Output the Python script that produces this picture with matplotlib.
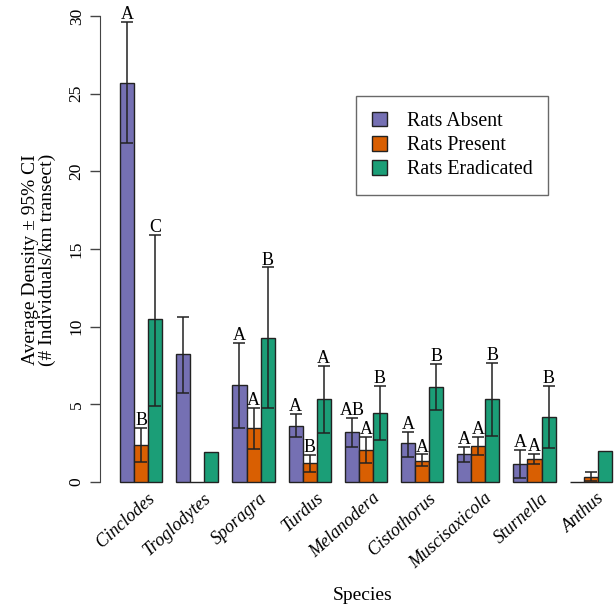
import numpy as np
import matplotlib.pyplot as plt
from matplotlib.patches import Patch

plt.rcParams['font.family'] = ['Liberation Serif', 'DejaVu Serif']

species = ['Cinclodes', 'Troglodytes', 'Sporagra', 'Turdus', 'Melanodera',
           'Cistothorus', 'Muscisaxicola', 'Sturnella', 'Anthus']

# mean density and 95% CI (lower, upper), nan = no error bar
absent = [25.7, 8.22, 6.25, 3.63, 3.2, 2.49, 1.8, 1.16, 0.0]
absent_lo = [21.8, 5.75, 3.5, 2.88, 2.23, 1.63, 1.31, 0.24, np.nan]
absent_hi = [29.6, 10.65, 8.97, 4.36, 4.14, 3.24, 2.27, 2.06, np.nan]
absent_let = ['A', '', 'A', 'A', 'AB', 'A', 'A', 'A', '']

present = [2.38, 0.0, 3.46, 1.2, 2.06, 1.37, 2.32, 1.46, 0.34]
present_lo = [1.31, np.nan, 2.1, 0.66, 1.2, 1.03, 1.74, 1.16, 0.08]
present_hi = [3.46, np.nan, 4.79, 1.76, 2.92, 1.78, 2.92, 1.8, 0.66]
present_let = ['B', '', 'A', 'B', 'A', 'A', 'A', 'A', '']

erad = [10.48, 1.95, 9.29, 5.32, 4.46, 6.14, 5.34, 4.2, 2.0]
erad_lo = [4.91, np.nan, 4.79, 3.18, 2.7, 4.64, 2.98, 2.17, np.nan]
erad_hi = [15.9, np.nan, 13.82, 7.49, 6.18, 7.58, 7.68, 6.18, np.nan]
erad_let = ['C', '', 'B', 'A', 'B', 'B', 'B', 'B', '']

groups = [
    ('Rats Absent', '#7570B3', absent, absent_lo, absent_hi, absent_let),
    ('Rats Present', '#D95F02', present, present_lo, present_hi, present_let),
    ('Rats Eradicated', '#1B9E77', erad, erad_lo, erad_hi, erad_let),
]

fig = plt.figure(figsize=(6.14, 6.08), dpi=100)
ax = fig.add_axes([100 / 614, 1 - 482 / 608, 514 / 614, 466 / 608])

base = np.arange(len(species)) * 4 + 1
for k, (name, col, vals, lo, hi, let) in enumerate(groups):
    x = base + k + 0.5
    ax.bar(x, vals, width=1, color=col, edgecolor='#222222', linewidth=1,
           clip_on=False, zorder=2)
    v = np.array(vals)
    lo = np.array(lo)
    hi = np.array(hi)
    ok = ~np.isnan(lo)
    ax.errorbar(x[ok], v[ok], yerr=[v[ok] - lo[ok], hi[ok] - v[ok]],
                fmt='none', ecolor='#222222', elinewidth=1.1, capsize=4.5,
                capthick=1.1, clip_on=False, zorder=3)
    for i in range(len(species)):
        if let[i]:
            ax.annotate(let[i], (x[i], hi[i]), xytext=(0, 2), textcoords='offset points',
                        ha='center', va='baseline', fontsize=13, annotation_clip=False)

ax.set_xlim(-0.43, 36.16)
ax.set_ylim(0, 30)
for s in ['top', 'right', 'bottom']:
    ax.spines[s].set_visible(False)
ax.spines['left'].set_bounds(0, 30)
ax.spines['left'].set_color('#444444')
ax.set_yticks([0, 5, 10, 15, 20, 25, 30])
ax.tick_params(axis='y', length=7, width=1, color='#444444', labelsize=12.5, pad=4)
for t in ax.get_yticklabels():
    t.set_rotation(90)
    t.set_va('center')
ax.set_xticks([])

for i, sp in enumerate(species):
    ax.text(base[i] + 1.9, -0.5, sp, rotation=42, rotation_mode='anchor',
            ha='right', va='top', fontsize=13, style='italic')

fig.text(39 / 614, 1 - 260 / 608, 'Average Density \u00b1 95% CI\n(# Individuals/km transect)',
         rotation=90, ha='center', va='center', fontsize=14, linespacing=1.0)
fig.text(363 / 614, 1 - 595 / 608, 'Species', ha='center', va='center', fontsize=14)

handles = [Patch(facecolor=g[1], edgecolor='#222222', linewidth=1) for g in groups]
leg = fig.legend(handles, [g[0] for g in groups], loc='upper left',
                 bbox_to_anchor=(356 / 614, 1 - 96 / 608), borderaxespad=0,
                 fontsize=14.3, fancybox=False, edgecolor='#444444',
                 handlelength=0.75, handleheight=0.75, handletextpad=1.0,
                 labelspacing=0.25, borderpad=0.8)
leg.get_frame().set_linewidth(1)

fig.savefig('out.png', dpi=100)
